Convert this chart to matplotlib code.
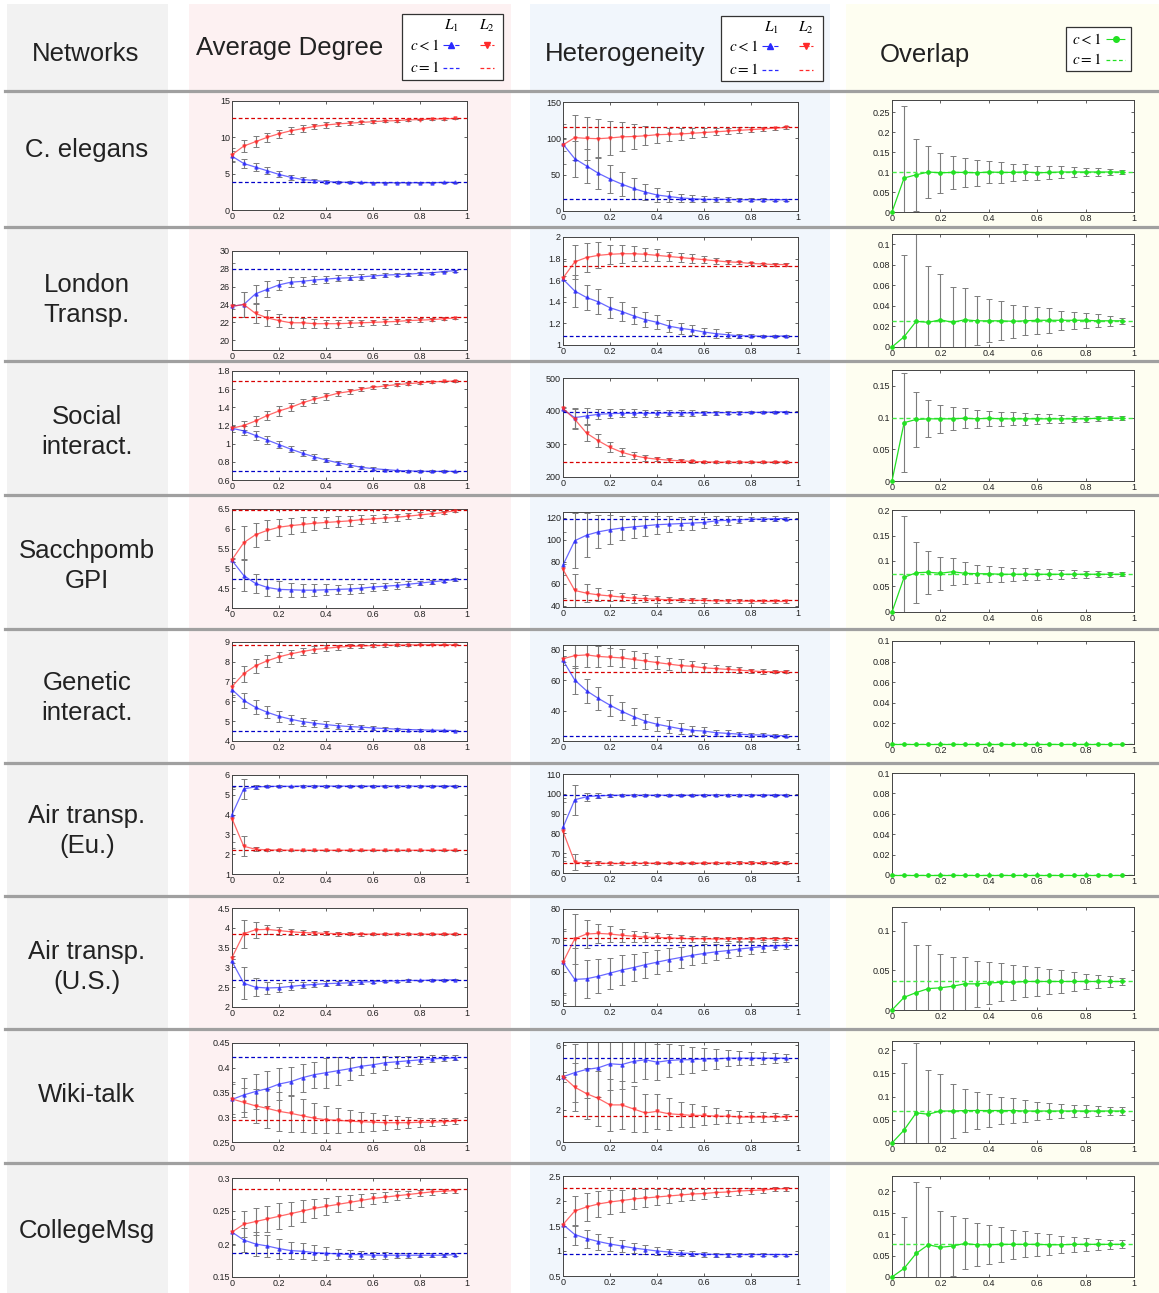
import matplotlib
matplotlib.use("Agg")
import matplotlib.pyplot as plt
from matplotlib.patches import Rectangle
from matplotlib.lines import Line2D
from matplotlib.ticker import FuncFormatter

plt.rcParams['font.family'] = ['Liberation Sans', 'DejaVu Sans']
plt.rcParams['mathtext.fontset'] = 'stix'

W, H = 1159, 1293

# ---------------------------------------------------------------- data
networks = ['C. elegans', 'London\nTransp.', 'Social\ninteract.', 'Sacchpomb\nGPI',
            'Genetic\ninteract.', 'Air transp.\n(Eu.)', 'Air transp.\n(U.S.)',
            'Wiki-talk', 'CollegeMsg']

p = [0, 0.05, 0.1, 0.15, 0.2, 0.25, 0.3, 0.35, 0.4, 0.45,
     0.5, 0.55, 0.6, 0.65, 0.7, 0.75, 0.8, 0.85, 0.9, 0.95]

# Average degree, layer L1 (blue) and L2 (red), c < 1 means, std, and c = 1 reference
deg_l1 = [
    [7.4, 6.4, 5.9, 5.4, 4.9, 4.5, 4.2, 4.05, 3.9, 3.85, 3.8, 3.8, 3.75, 3.75, 3.75, 3.75, 3.75, 3.75, 3.8, 3.8],
    [23.8, 24.0, 25.2, 25.7, 26.2, 26.5, 26.6, 26.75, 26.85, 26.95, 27.0, 27.1, 27.2, 27.3, 27.35, 27.4, 27.5, 27.55, 27.7, 27.8],
    [1.17, 1.14, 1.09, 1.04, 0.99, 0.94, 0.895, 0.855, 0.82, 0.79, 0.765, 0.74, 0.725, 0.715, 0.705, 0.70, 0.697, 0.695, 0.695, 0.695],
    [5.2, 4.82, 4.62, 4.52, 4.47, 4.46, 4.45, 4.45, 4.46, 4.47, 4.48, 4.5, 4.53, 4.55, 4.57, 4.6, 4.63, 4.66, 4.69, 4.72],
    [6.6, 6.05, 5.7, 5.45, 5.25, 5.1, 4.98, 4.9, 4.83, 4.77, 4.73, 4.7, 4.66, 4.63, 4.6, 4.58, 4.56, 4.55, 4.54, 4.53],
    [4.0, 5.3, 5.4, 5.42, 5.43, 5.43, 5.44, 5.44, 5.44, 5.44, 5.44, 5.44, 5.44, 5.44, 5.44, 5.44, 5.44, 5.44, 5.44, 5.44],
    [3.15, 2.6, 2.5, 2.48, 2.49, 2.52, 2.55, 2.57, 2.59, 2.6, 2.61, 2.63, 2.64, 2.65, 2.66, 2.67, 2.67, 2.68, 2.68, 2.69],
    [0.336, 0.345, 0.352, 0.358, 0.367, 0.372, 0.38, 0.386, 0.39, 0.394, 0.398, 0.403, 0.406, 0.41, 0.412, 0.414, 0.416, 0.418, 0.419, 0.42],
    [0.218, 0.206, 0.2, 0.197, 0.193, 0.19, 0.189, 0.187, 0.186, 0.185, 0.184, 0.184, 0.183, 0.183, 0.183, 0.183, 0.183, 0.183, 0.183, 0.184],
]
deg_l1_err = [
    [0.7, 0.6, 0.55, 0.45, 0.4, 0.35, 0.3, 0.25, 0.2, 0.18, 0.15, 0.12, 0.1, 0.1, 0.08, 0.08, 0.06, 0.05, 0.05, 0.04],
    [4.9, 1.4, 1.0, 0.9, 0.6, 0.55, 0.5, 0.45, 0.4, 0.35, 0.3, 0.3, 0.25, 0.2, 0.2, 0.15, 0.15, 0.1, 0.1, 0.1],
    [0.04, 0.05, 0.05, 0.045, 0.04, 0.035, 0.03, 0.03, 0.025, 0.02, 0.02, 0.015, 0.015, 0.01, 0.01, 0.01, 0.01, 0.01, 0.01, 0.005],
    [0.05, 0.4, 0.25, 0.22, 0.2, 0.18, 0.16, 0.15, 0.14, 0.12, 0.12, 0.11, 0.1, 0.09, 0.08, 0.07, 0.06, 0.05, 0.04, 0.03],
    [0.4, 0.38, 0.35, 0.3, 0.27, 0.22, 0.2, 0.18, 0.16, 0.14, 0.12, 0.1, 0.08, 0.07, 0.06, 0.05, 0.04, 0.03, 0.03, 0.02],
    [1.4, 0.5, 0.1, 0.05, 0.04, 0.03, 0.03, 0.03, 0.03, 0.03, 0.03, 0.03, 0.03, 0.03, 0.03, 0.03, 0.03, 0.03, 0.03, 0.03],
    [0.05, 0.4, 0.22, 0.15, 0.12, 0.1, 0.08, 0.07, 0.06, 0.05, 0.05, 0.04, 0.04, 0.03, 0.03, 0.03, 0.02, 0.02, 0.02, 0.02],
    [0.035, 0.035, 0.035, 0.035, 0.033, 0.03, 0.028, 0.026, 0.03, 0.028, 0.022, 0.018, 0.016, 0.014, 0.012, 0.01, 0.008, 0.007, 0.006, 0.005],
    [0.02, 0.018, 0.018, 0.017, 0.015, 0.013, 0.012, 0.011, 0.01, 0.008, 0.007, 0.006, 0.005, 0.005, 0.004, 0.004, 0.003, 0.003, 0.002, 0.002],
]
deg_l2 = [
    [7.6, 8.8, 9.4, 10.0, 10.5, 10.9, 11.2, 11.5, 11.7, 11.85, 11.95, 12.05, 12.15, 12.25, 12.3, 12.4, 12.45, 12.5, 12.55, 12.6],
    [23.8, 24.0, 23.0, 22.5, 22.2, 21.95, 21.95, 21.85, 21.85, 21.85, 21.9, 21.95, 22.0, 22.05, 22.1, 22.2, 22.25, 22.3, 22.4, 22.5],
    [1.17, 1.20, 1.25, 1.31, 1.36, 1.40, 1.45, 1.49, 1.52, 1.555, 1.575, 1.60, 1.62, 1.635, 1.65, 1.66, 1.67, 1.68, 1.685, 1.69],
    [5.22, 5.65, 5.85, 5.96, 6.04, 6.08, 6.11, 6.14, 6.16, 6.18, 6.2, 6.23, 6.25, 6.27, 6.29, 6.32, 6.35, 6.38, 6.41, 6.46],
    [6.75, 7.4, 7.8, 8.05, 8.25, 8.4, 8.52, 8.62, 8.68, 8.74, 8.78, 8.8, 8.82, 8.83, 8.84, 8.85, 8.86, 8.86, 8.86, 8.86],
    [3.8, 2.4, 2.25, 2.22, 2.21, 2.2, 2.2, 2.2, 2.2, 2.2, 2.2, 2.2, 2.2, 2.2, 2.2, 2.2, 2.2, 2.2, 2.2, 2.2],
    [3.25, 3.85, 3.95, 3.96, 3.93, 3.9, 3.88, 3.87, 3.86, 3.85, 3.85, 3.84, 3.84, 3.84, 3.84, 3.84, 3.84, 3.84, 3.84, 3.84],
    [0.337, 0.33, 0.323, 0.318, 0.312, 0.308, 0.303, 0.298, 0.295, 0.294, 0.292, 0.291, 0.29, 0.289, 0.289, 0.289, 0.29, 0.29, 0.291, 0.292],
    [0.218, 0.23, 0.234, 0.238, 0.242, 0.246, 0.25, 0.254, 0.257, 0.26, 0.263, 0.266, 0.269, 0.271, 0.273, 0.275, 0.277, 0.279, 0.28, 0.281],
]
deg_l2_err = [
    [1.0, 0.8, 0.75, 0.6, 0.55, 0.5, 0.45, 0.4, 0.35, 0.3, 0.3, 0.25, 0.2, 0.2, 0.15, 0.15, 0.12, 0.1, 0.1, 0.08],
    [0.3, 1.4, 1.1, 0.9, 0.7, 0.6, 0.55, 0.5, 0.45, 0.45, 0.4, 0.35, 0.3, 0.3, 0.25, 0.2, 0.2, 0.15, 0.15, 0.1],
    [0.04, 0.05, 0.05, 0.05, 0.05, 0.045, 0.04, 0.04, 0.035, 0.03, 0.03, 0.025, 0.02, 0.02, 0.015, 0.015, 0.01, 0.01, 0.01, 0.01],
    [0.05, 0.42, 0.3, 0.25, 0.22, 0.2, 0.18, 0.16, 0.15, 0.14, 0.13, 0.12, 0.11, 0.1, 0.09, 0.08, 0.07, 0.06, 0.04, 0.03],
    [0.45, 0.4, 0.35, 0.3, 0.25, 0.22, 0.2, 0.18, 0.15, 0.12, 0.1, 0.09, 0.08, 0.06, 0.05, 0.04, 0.03, 0.03, 0.02, 0.02],
    [1.5, 0.5, 0.1, 0.05, 0.04, 0.03, 0.03, 0.03, 0.03, 0.03, 0.03, 0.03, 0.03, 0.03, 0.03, 0.03, 0.03, 0.03, 0.03, 0.03],
    [0.05, 0.35, 0.2, 0.12, 0.1, 0.08, 0.07, 0.06, 0.05, 0.05, 0.04, 0.04, 0.03, 0.03, 0.03, 0.02, 0.02, 0.02, 0.02, 0.02],
    [0.03, 0.03, 0.035, 0.04, 0.04, 0.037, 0.033, 0.03, 0.027, 0.025, 0.022, 0.02, 0.018, 0.015, 0.013, 0.011, 0.009, 0.008, 0.007, 0.006],
    [0.02, 0.02, 0.02, 0.02, 0.02, 0.018, 0.016, 0.014, 0.013, 0.012, 0.011, 0.01, 0.009, 0.008, 0.007, 0.006, 0.005, 0.004, 0.003, 0.003],
]
deg_ref_l1 = [3.9, 28.0, 0.70, 4.74, 4.52, 5.45, 2.69, 0.421, 0.187]
deg_ref_l2 = [12.7, 22.6, 1.69, 6.48, 8.86, 2.20, 3.85, 0.294, 0.283]
deg_ylim = [(0, 15), (18.9, 30), (0.6, 1.8), (4, 6.5), (4, 9), (1, 6), (2, 4.5), (0.25, 0.45), (0.15, 0.3)]
deg_yticks = [[0, 5, 10, 15], [20, 22, 24, 26, 28, 30], [0.6, 0.8, 1, 1.2, 1.4, 1.6, 1.8],
              [4, 4.5, 5, 5.5, 6, 6.5], [4, 5, 6, 7, 8, 9], [1, 2, 3, 4, 5, 6],
              [2, 2.5, 3, 3.5, 4, 4.5], [0.25, 0.3, 0.35, 0.4, 0.45], [0.15, 0.2, 0.25, 0.3]]

# Heterogeneity
het_l1 = [
    [92, 72, 62, 52, 44, 37, 31, 26, 22, 20, 18, 17, 16, 16, 16, 15.5, 15.5, 15.5, 15.5, 15.5],
    [1.61, 1.50, 1.44, 1.40, 1.345, 1.31, 1.27, 1.235, 1.21, 1.175, 1.155, 1.14, 1.12, 1.105, 1.095, 1.085, 1.085, 1.08, 1.08, 1.085],
    [405, 380, 385, 390, 392, 393, 393, 393, 393, 394, 394, 394, 394, 395, 395, 395, 396, 396, 397, 398],
    [77, 99, 104, 107, 109, 110.5, 111.5, 112.5, 113.5, 114, 114.5, 115, 115.5, 117, 117.5, 118, 118.5, 118.5, 119, 119],
    [73, 60, 53, 48, 43.5, 39.5, 36, 33, 31, 29.5, 28, 27, 26.5, 25.5, 25, 24.5, 24, 24, 23.5, 23.5],
    [83, 97, 98.5, 99, 99.2, 99.3, 99.3, 99.3, 99.3, 99.3, 99.3, 99.3, 99.4, 99.4, 99.4, 99.4, 99.4, 99.4, 99.4, 99.4],
    [63, 57.5, 57.7, 58.5, 59.5, 60.5, 61.3, 62.2, 63, 63.8, 64.5, 65.2, 65.8, 66.3, 66.7, 67.2, 67.6, 68, 68.2, 68.4],
    [4.05, 4.3, 4.5, 4.6, 4.85, 4.8, 5.0, 5.1, 4.95, 5.05, 5.1, 5.1, 5.15, 5.15, 5.2, 5.2, 5.2, 5.2, 5.2, 5.2],
    [1.53, 1.33, 1.25, 1.19, 1.14, 1.1, 1.06, 1.03, 1.0, 0.98, 0.96, 0.95, 0.94, 0.93, 0.93, 0.93, 0.93, 0.93, 0.93, 0.93],
]
het_l1_err = [
    [28, 25, 24, 22, 19, 17, 14, 11, 9, 7, 6, 5, 4, 3, 3, 2, 2, 2, 1.5, 1.5],
    [0.17, 0.15, 0.12, 0.115, 0.095, 0.09, 0.08, 0.07, 0.065, 0.055, 0.05, 0.045, 0.04, 0.04, 0.03, 0.02, 0.015, 0.01, 0.01, 0.01],
    [5, 30, 25, 15, 13, 12, 12, 11, 10, 10, 9, 8, 7, 6, 5, 4, 3, 3, 2, 2],
    [30, 25, 20, 15, 13, 11, 10, 9, 8, 7, 6, 6, 5, 4, 4, 3, 2, 2, 2, 1.5],
    [3, 9, 8, 7.5, 7, 6, 5.5, 5, 4.5, 4, 3.5, 3, 2.5, 2, 2, 1.5, 1.5, 1, 1, 1],
    [15, 7.5, 2, 1.2, 0.8, 0.6, 0.5, 0.5, 0.5, 0.5, 0.5, 0.5, 0.5, 0.5, 0.5, 0.5, 0.5, 0.5, 0.5, 0.5],
    [10.5, 10, 6, 5.5, 5, 4.7, 4.4, 4.2, 3.9, 3.6, 3.4, 3.1, 2.9, 2.6, 2.4, 2.1, 1.9, 1.6, 1.4, 1.2],
    [0.3, 1.8, 1.8, 1.8, 1.6, 1.5, 1.3, 1.2, 1.1, 1.0, 0.9, 0.8, 0.7, 0.6, 0.5, 0.45, 0.4, 0.35, 0.3, 0.25],
    [0.25, 0.2, 0.18, 0.16, 0.14, 0.12, 0.1, 0.09, 0.08, 0.07, 0.06, 0.05, 0.05, 0.04, 0.04, 0.03, 0.03, 0.03, 0.02, 0.02],
]
het_l2 = [
    [91, 101, 100, 99.5, 100.5, 102, 102.5, 103.5, 105, 105.5, 106, 107, 108, 109, 110, 111, 112, 113, 114, 115],
    [1.62, 1.77, 1.81, 1.83, 1.84, 1.845, 1.845, 1.84, 1.83, 1.82, 1.81, 1.80, 1.79, 1.78, 1.77, 1.765, 1.755, 1.75, 1.745, 1.745],
    [408, 375, 333, 310, 290, 275, 265, 258, 254, 251, 249, 247, 246, 245, 245, 245, 245, 245, 245, 246],
    [73, 54, 51.5, 50, 49, 48, 47, 46.5, 46, 45.5, 45.5, 45, 45, 44.5, 44.5, 44.5, 44, 44, 44, 44],
    [74, 76, 76.5, 75.5, 75, 74.5, 73.5, 72.5, 71.5, 70.5, 69.5, 69, 68, 67.5, 67, 66.5, 66, 65.5, 65.5, 65.5],
    [81, 65.5, 65, 65, 64.8, 64.8, 64.9, 64.9, 65, 65, 65, 65, 65, 65.1, 65.1, 65.2, 65.2, 65.2, 65.2, 65.3],
    [63, 70.5, 72, 72.2, 72, 71.6, 71.3, 71, 70.9, 70.8, 70.6, 70.5, 70.5, 70.4, 70.4, 70.4, 70.4, 70.5, 70.5, 70.5],
    [4.05, 3.4, 3.0, 2.7, 2.3, 2.3, 2.05, 1.8, 1.9, 1.75, 1.7, 1.65, 1.65, 1.6, 1.6, 1.55, 1.55, 1.55, 1.55, 1.55],
    [1.53, 1.8, 1.88, 1.94, 1.98, 2.01, 2.04, 2.06, 2.08, 2.1, 2.12, 2.14, 2.15, 2.17, 2.18, 2.2, 2.21, 2.22, 2.24, 2.25],
]
het_l2_err = [
    [8, 31, 30, 27, 23, 20, 17, 13, 11, 9, 8, 7, 6, 5, 4, 4, 3, 3, 2, 2],
    [0.02, 0.16, 0.13, 0.12, 0.09, 0.085, 0.07, 0.06, 0.055, 0.045, 0.04, 0.04, 0.035, 0.03, 0.02, 0.015, 0.01, 0.01, 0.01, 0.01],
    [5, 30, 25, 20, 15, 12, 10, 8, 7, 6, 5, 5, 4, 4, 3, 3, 3, 3, 3, 3],
    [5, 15, 8, 6, 5, 4, 4, 3, 3, 3, 2, 2, 2, 2, 1.5, 1.5, 1, 1, 1, 1],
    [2, 8, 8, 7, 6, 6, 5.5, 5, 4.5, 4, 4, 3.5, 3, 2.5, 2, 2, 1.5, 1.5, 1, 1],
    [15, 4, 1.5, 1, 0.8, 0.7, 0.7, 0.7, 0.7, 0.7, 0.7, 0.7, 0.7, 0.7, 0.7, 0.7, 0.7, 0.7, 0.7, 0.7],
    [10, 8, 4.5, 3, 2.5, 2, 1.8, 1.6, 1.4, 1.2, 1.1, 1, 0.9, 0.8, 0.7, 0.7, 0.6, 0.5, 0.5, 0.5],
    [0.3, 1.5, 1.6, 1.7, 1.6, 1.5, 1.4, 1.2, 1.1, 1.0, 0.8, 0.7, 0.6, 0.5, 0.4, 0.35, 0.3, 0.3, 0.25, 0.2],
    [0.25, 0.3, 0.28, 0.26, 0.24, 0.22, 0.2, 0.18, 0.16, 0.14, 0.12, 0.11, 0.1, 0.09, 0.08, 0.07, 0.06, 0.05, 0.04, 0.04],
]
het_ref_l1 = [16, 1.085, 398, 119, 23.5, 99.5, 68.5, 5.2, 0.95]
het_ref_l2 = [115, 1.735, 246, 45, 65, 65.3, 70.7, 1.6, 2.27]
het_ylim = [(0, 150), (1, 2), (200, 500), (39, 125), (20, 83), (60, 110), (49, 80), (0, 6.2), (0.5, 2.5)]
het_yticks = [[0, 50, 100, 150], [1, 1.2, 1.4, 1.6, 1.8, 2], [200, 300, 400, 500],
              [40, 60, 80, 100, 120], [20, 40, 60, 80], [60, 70, 80, 90, 100, 110],
              [50, 60, 70, 80], [0, 2, 4, 6], [0.5, 1, 1.5, 2, 2.5]]

# Overlap between the two layers
ovl = [
    [0, 0.085, 0.093, 0.1, 0.098, 0.099, 0.099, 0.098, 0.1, 0.099, 0.099, 0.1, 0.098, 0.099, 0.1, 0.1, 0.1, 0.1, 0.1, 0.1],
    [0, 0.01, 0.025, 0.024, 0.0265, 0.024, 0.0265, 0.0255, 0.0255, 0.0255, 0.025, 0.0255, 0.026, 0.026, 0.026, 0.026, 0.026, 0.0255, 0.0255, 0.0255],
    [0, 0.092, 0.097, 0.098, 0.098, 0.098, 0.099, 0.098, 0.099, 0.098, 0.098, 0.098, 0.098, 0.098, 0.098, 0.098, 0.098, 0.099, 0.099, 0.099],
    [0, 0.068, 0.077, 0.078, 0.076, 0.079, 0.076, 0.075, 0.075, 0.074, 0.074, 0.074, 0.074, 0.074, 0.074, 0.074, 0.074, 0.074, 0.074, 0.074],
    [0] * 20,
    [0] * 20,
    [0, 0.016, 0.022, 0.027, 0.028, 0.03, 0.033, 0.033, 0.034, 0.035, 0.035, 0.036, 0.036, 0.036, 0.036, 0.036, 0.036, 0.036, 0.036, 0.036],
    [0, 0.028, 0.065, 0.062, 0.069, 0.069, 0.07, 0.07, 0.07, 0.07, 0.07, 0.069, 0.069, 0.069, 0.069, 0.069, 0.069, 0.069, 0.069, 0.069],
    [0, 0.02, 0.055, 0.075, 0.069, 0.072, 0.078, 0.075, 0.075, 0.076, 0.076, 0.076, 0.076, 0.075, 0.075, 0.076, 0.076, 0.076, 0.076, 0.076],
]
ovl_err = [
    [0, 0.18, 0.09, 0.065, 0.05, 0.042, 0.037, 0.032, 0.028, 0.026, 0.022, 0.021, 0.018, 0.017, 0.015, 0.013, 0.011, 0.009, 0.007, 0.006],
    [0, 0.08, 0.085, 0.055, 0.045, 0.034, 0.031, 0.024, 0.021, 0.019, 0.016, 0.014, 0.013, 0.012, 0.0095, 0.0085, 0.0075, 0.0065, 0.005, 0.003],
    [0, 0.078, 0.043, 0.029, 0.022, 0.018, 0.016, 0.014, 0.012, 0.011, 0.01, 0.009, 0.008, 0.007, 0.006, 0.005, 0.005, 0.004, 0.003, 0.003],
    [0, 0.12, 0.06, 0.042, 0.032, 0.026, 0.022, 0.018, 0.016, 0.015, 0.013, 0.012, 0.011, 0.01, 0.009, 0.008, 0.007, 0.006, 0.005, 0.004],
    [0] * 20,
    [0] * 20,
    [0, 0.095, 0.06, 0.055, 0.043, 0.037, 0.034, 0.029, 0.027, 0.024, 0.022, 0.02, 0.018, 0.016, 0.014, 0.012, 0.01, 0.008, 0.007, 0.005],
    [0, 0.145, 0.15, 0.095, 0.08, 0.058, 0.047, 0.04, 0.035, 0.03, 0.027, 0.024, 0.02, 0.018, 0.015, 0.013, 0.012, 0.01, 0.009, 0.008],
    [0, 0.12, 0.165, 0.135, 0.085, 0.07, 0.06, 0.05, 0.045, 0.04, 0.034, 0.03, 0.027, 0.024, 0.02, 0.018, 0.015, 0.013, 0.011, 0.009],
]
ovl_ref = [0.1, 0.025, 0.099, 0.074, 0, 0, 0.036, 0.069, 0.077]
ovl_ylim = [(0, 0.28), (0, 0.11), (0, 0.175), (0, 0.2), (0, 0.1), (0, 0.1), (0, 0.13), (0, 0.22), (0, 0.235)]
ovl_yticks = [[0, 0.05, 0.1, 0.15, 0.2, 0.25], [0, 0.02, 0.04, 0.06, 0.08, 0.1],
              [0, 0.05, 0.1, 0.15], [0, 0.05, 0.1, 0.15, 0.2],
              [0, 0.02, 0.04, 0.06, 0.08, 0.1], [0, 0.02, 0.04, 0.06, 0.08, 0.1],
              [0, 0.05, 0.1], [0, 0.05, 0.1, 0.15, 0.2], [0, 0.05, 0.1, 0.15, 0.2]]

x_ticks = [0, 0.2, 0.4, 0.6, 0.8, 1]
col_titles = ['Networks', 'Average Degree', 'Heterogeneity', 'Overlap']

# ---------------------------------------------------------------- layout (pixels)
col_x = [(232, 467), (563, 798), (892, 1134)]
axes_y = [
    ((101, 210), (102, 211), (100, 212)),
    ((251, 350), (237, 345), (234, 347)),
    ((371, 480), (378, 477), (370, 481)),
    ((509, 608), (512, 607), (510, 612)),
    ((642, 741), (645, 741), (641, 744)),
    ((775, 874), (774, 873), (773, 875)),
    ((908, 1007), (909, 1006), (907, 1010)),
    ((1043, 1142), (1042, 1142), (1041, 1143)),
    ((1178, 1277), (1176, 1276), (1176, 1277)),
]
label_y = [150, 300, 432, 566, 698, 831, 967, 1095, 1231]
sep_y = [91, 227, 361, 495, 629, 763, 896, 1029, 1163]

BLUE, BLUE_REF = '#2a2aff', '#0000c8'
RED, RED_REF = '#ff2a2a', '#d80000'
GREEN, GREEN_REF = '#22e022', '#44ee44'
ERR = '#7c7c7c'


def fx(px):
    return px / W


def fy(py):
    return 1 - py / H


fig = plt.figure(figsize=(W / 100, H / 100), dpi=100)
fig.patch.set_facecolor('white')

# column backgrounds
for x0, x1, c in [(7, 168, '#f2f2f2'), (189, 511, '#fdf1f2'),
                  (530, 830, '#f1f6fc'), (846, 1159, '#fefef1')]:
    fig.add_artist(Rectangle((fx(x0), 0), fx(x1) - fx(x0), fy(4), transform=fig.transFigure,
                             facecolor=c, edgecolor='none', zorder=-10))

# row separators
for y in sep_y:
    fig.add_artist(Line2D([fx(5), 1], [fy(y), fy(y)], transform=fig.transFigure,
                          color='#a0a0a0', lw=2.3, zorder=-5))

# header titles
fig.text(fx(86), fy(61), col_titles[0], ha='center', va='baseline', fontsize=18.5, color='#222')
fig.text(fx(290), fy(55), col_titles[1], ha='center', va='baseline', fontsize=18.5, color='#222')
fig.text(fx(625), fy(61), col_titles[2], ha='center', va='baseline', fontsize=18.5, color='#222')
fig.text(fx(925), fy(62), col_titles[3], ha='center', va='baseline', fontsize=18.5, color='#222')

# row labels
for name, y in zip(networks, label_y):
    fig.text(fx(87), fy(y), name, ha='center', va='center', fontsize=18.5,
             color='#222', linespacing=1.3)


def fig_line(xs, ys, **kw):
    fig.add_artist(Line2D([fx(v) for v in xs], [fy(v) for v in ys],
                          transform=fig.transFigure, **kw))


def header_key(box, l1x, l2x, ytop, yc, ye, tx, ln1, ln2):
    x0, y0, x1, y1 = box
    fig.add_artist(Rectangle((fx(x0), fy(y1)), fx(x1) - fx(x0), fy(y0) - fy(y1),
                             transform=fig.transFigure, facecolor='white',
                             edgecolor='#333', lw=0.9, zorder=3))
    fig.text(fx(l1x), fy(ytop), r'$L_1$', ha='center', va='center', fontsize=11, zorder=4)
    fig.text(fx(l2x), fy(ytop), r'$L_2$', ha='center', va='center', fontsize=11, zorder=4)
    fig.text(fx(tx), fy(yc), r'$c<1$', ha='right', va='center', fontsize=11, zorder=4)
    fig.text(fx(tx), fy(ye), r'$c=1$', ha='right', va='center', fontsize=11, zorder=4)
    fig_line(ln1, [yc, yc], color=BLUE, lw=0.8, ls='-.', zorder=4)
    fig_line([sum(ln1) / 2], [yc], color=BLUE, marker='^', ms=4, ls='none', zorder=4)
    fig_line(ln2, [yc, yc], color=RED, lw=0.8, ls='-.', zorder=4)
    fig_line([sum(ln2) / 2], [yc], color=RED, marker='v', ms=5, ls='none', zorder=4)
    fig_line(ln1, [ye, ye], color=BLUE, lw=0.9, ls=(0, (3, 2)), zorder=4)
    fig_line(ln2, [ye, ye], color=RED, lw=0.9, ls=(0, (3, 2)), zorder=4)


header_key((402, 14, 503, 80), 451, 487, 26, 45, 68, 440, (443, 459), (480, 494))
header_key((721, 16, 823, 81), 771, 806, 28, 46, 70, 759, (762, 778), (799, 813))

# overlap key
fig.add_artist(Rectangle((fx(1066), fy(71)), fx(1131) - fx(1066), fy(27) - fy(71),
                         transform=fig.transFigure, facecolor='white',
                         edgecolor='#333', lw=0.9, zorder=3))
fig.text(fx(1102), fy(39), r'$c<1$', ha='right', va='center', fontsize=11, zorder=4)
fig.text(fx(1102), fy(60), r'$c=1$', ha='right', va='center', fontsize=11, zorder=4)
fig_line([1106, 1125], [39, 39], color=GREEN, lw=0.8, ls='-.', zorder=4)
fig_line([1115.5], [39], color=GREEN, marker='o', ms=4, ls='none', zorder=4)
fig_line([1106, 1125], [60, 60], color=GREEN, lw=0.9, ls=(0, (3, 2)), zorder=4)

tick_fmt = FuncFormatter(lambda v, pos: ('%g' % round(v, 4)))


def make_axes(col, row):
    x0, x1 = col_x[col]
    y0, y1 = axes_y[row][col]
    ax = fig.add_axes([fx(x0), fy(y1), fx(x1) - fx(x0), fy(y0) - fy(y1)])
    ax.set_facecolor('white')
    ax.set_xlim(0, 1)
    ax.set_xticks(x_ticks)
    ax.xaxis.set_major_formatter(tick_fmt)
    ax.yaxis.set_major_formatter(tick_fmt)
    ax.tick_params(direction='in', length=2.5, width=0.5, labelsize=6.5, pad=1.5,
                   top=True, right=True, colors='#222')
    for s in ax.spines.values():
        s.set_linewidth(0.7)
        s.set_color('#444')
    return ax


def two_layer(ax, m1, e1, m2, e2, r1, r2, ylim, yticks):
    ax.errorbar(p, m1, yerr=e1, fmt='none', ecolor=ERR, elinewidth=0.8,
                capsize=2, capthick=0.7, zorder=2)
    ax.errorbar(p, m2, yerr=e2, fmt='none', ecolor=ERR, elinewidth=0.8,
                capsize=2, capthick=0.7, zorder=2)
    ax.axhline(r1, color=BLUE_REF, lw=0.9, ls=(0, (3, 2)), zorder=3)
    ax.axhline(r2, color=RED_REF, lw=0.9, ls=(0, (3, 2)), zorder=3)
    ax.plot(p, m1, color=BLUE, lw=0.9, alpha=0.7, marker='^', ms=2.3,
            mfc=BLUE, mec=BLUE, zorder=4, clip_on=False)
    ax.plot(p, m2, color=RED, lw=0.9, alpha=0.7, marker='v', ms=2.3,
            mfc=RED, mec=RED, zorder=4, clip_on=False)
    ax.set_ylim(*ylim)
    ax.set_yticks(yticks)


for r in range(len(networks)):
    ax = make_axes(0, r)
    two_layer(ax, deg_l1[r], deg_l1_err[r], deg_l2[r], deg_l2_err[r],
              deg_ref_l1[r], deg_ref_l2[r], deg_ylim[r], deg_yticks[r])

    ax = make_axes(1, r)
    two_layer(ax, het_l1[r], het_l1_err[r], het_l2[r], het_l2_err[r],
              het_ref_l1[r], het_ref_l2[r], het_ylim[r], het_yticks[r])

    ax = make_axes(2, r)
    if any(ovl_err[r]):
        ax.errorbar(p, ovl[r], yerr=ovl_err[r], fmt='none', ecolor=ERR, elinewidth=0.8,
                    capsize=2, capthick=0.7, zorder=2)
    ax.axhline(ovl_ref[r], color=GREEN_REF, lw=1.0, ls=(0, (3, 2)), zorder=3)
    ax.plot(p, ovl[r], color=GREEN, lw=0.9, marker='o', ms=2.4, mfc=GREEN,
            mec=GREEN, zorder=4, clip_on=False)
    ax.set_ylim(*ovl_ylim[r])
    ax.set_yticks(ovl_yticks[r])

fig.savefig('out.png', dpi=100, facecolor='white')
